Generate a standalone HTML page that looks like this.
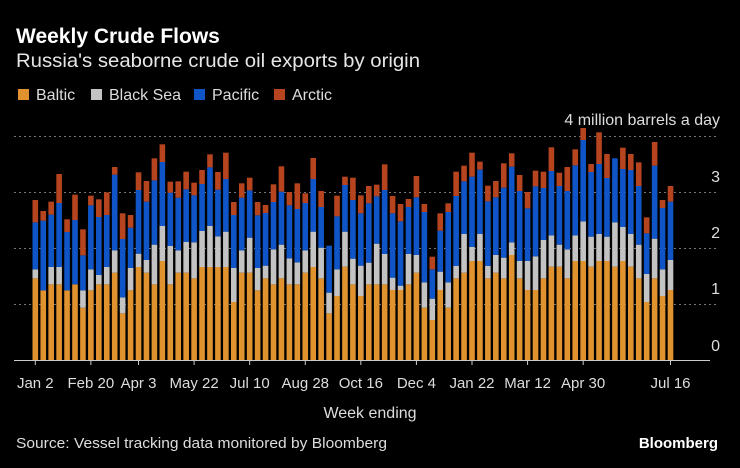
<!DOCTYPE html>
<html><head><meta charset="utf-8"><style>
html,body{margin:0;padding:0;background:#000;}
svg{display:block;font-family:"Liberation Sans",sans-serif;}
</style></head><body>
<svg id="s" width="740" height="468" viewBox="0 0 740 468" xmlns="http://www.w3.org/2000/svg">
<rect width="740" height="468" fill="#000"/>
<text x="16" y="43" fill="#fff" font-size="21" font-weight="bold">Weekly Crude Flows</text>
<text x="16" y="67" fill="#e6e6e6" font-size="19.5" textLength="404" lengthAdjust="spacingAndGlyphs">Russia's seaborne crude oil exports by origin</text>
<rect x="18" y="89" width="11" height="11" fill="#e0922f"/><text x="36" y="100" fill="#ddd" font-size="16">Baltic</text>
<rect x="91" y="89" width="11" height="11" fill="#c3c3c3"/><text x="109" y="100" fill="#ddd" font-size="16">Black Sea</text>
<rect x="194" y="89" width="11" height="11" fill="#0f55c8"/><text x="212" y="100" fill="#ddd" font-size="16">Pacific</text>
<rect x="274" y="89" width="11" height="11" fill="#b5441f"/><text x="292" y="100" fill="#ddd" font-size="16">Arctic</text>
<g stroke="#777" stroke-width="1" stroke-dasharray="2,3">
<line x1="14" y1="304.5" x2="718" y2="304.5"/><line x1="14" y1="248.5" x2="718" y2="248.5"/>
<line x1="14" y1="192.5" x2="718" y2="192.5"/><line x1="14" y1="136.5" x2="718" y2="136.5"/>
</g>
<g fill="#ddd" font-size="16" text-anchor="end">
<text x="720" y="125">4 million barrels a day</text>
<text x="720" y="182">3</text><text x="720" y="238">2</text><text x="720" y="294">1</text><text x="720" y="351">0</text>
</g>
<g id="bars"></g>
<line x1="14" y1="360.5" x2="710" y2="360.5" stroke="#ccc" stroke-width="1"/>
<g id="ticks" fill="#ddd" font-size="15" text-anchor="middle"></g>
<text x="370" y="418" fill="#ddd" font-size="16" text-anchor="middle">Week ending</text>
<text x="16" y="448" fill="#ddd" font-size="15" textLength="371" lengthAdjust="spacingAndGlyphs">Source: Vessel tracking data monitored by Bloomberg</text>
<text x="718" y="448" fill="#fff" font-size="15" font-weight="bold" text-anchor="end">Bloomberg</text>
</svg>
<script>
var z1=[[415,388,247,180],[451,451,242,213],[433,381,224,185],[433,381,189,102],[451,451,276,238],[433,433,240,164],[503,451,346,268],[451,388,196,167],[433,405,231,178],[433,381,225,157],[398,331,104,81],[520,472,297,220],[451,384,263,225],[381,341,150,97],[398,360,185,123],[433,314,121,55],[363,258,66,13],[433,318,158,125],[398,331,173,124],[398,306,148,95],[415,307,166,128],[381,273,132,90],[381,258,82,43],[381,289,149,96],[381,275,117,38],[486,384,225,186],[398,331,173,130],[398,293,151,113],[451,384,226,186],[415,377,219,195],[433,328,186,133],[415,314,155,79],[433,355,196,156],[433,367,207,130],[398,331,189,160],[381,275,117,54],[415,323,201,153],[520,458,317,317],[468,388,229,167]];
var z2=[[440,335,195,170],[493,416,240,173],[528,437,280,226],[493,428,250,198],[493,371,229,194],[493,402,210,133],[510,473,280,228],[510,497,304,252],[493,402,261,237],[458,405,232,168],[563,487,276,252],[600,536,448,410],[510,455,332,280],[563,487,276,250],[475,438,228,155],[458,342,184,137],[423,381,170,98],[423,342,149,125],[475,438,244,197],[458,405,232,183],[475,413,203,130],[405,367,140,100],[475,423,213,165],[510,423,265,216],[510,409,199,152],[475,360,204,155],[440,346,153,82],[440,374,198,158],[475,388,213,141],[423,346,136,88],[423,304,60,24],[440,350,156,132],[423,342,132,37],[423,350,174,102],[440,307,115,115],[423,321,147,83],[440,342,150,102],[475,374,198,127],[546,462,340,292],[475,356,137,66],[528,448,264,240],[510,420,245,198]];
var ys=[];z1.forEach(function(b){ys.push(b.map(function(v){return 140+v/3;}));});
z2.forEach(function(b){ys.push(b.map(function(v){return 120+v/3;}));});
var cols=["#e0922f","#c3c3c3","#0f55c8","#b5441f"],h="";
ys.forEach(function(b,i){var cx=35.3+i*7.94,x=(cx-2.8).toFixed(2),prev=360;
for(var k=0;k<4;k++){var t=b[k];if(prev-t>0.2){h+='<rect x="'+x+'" y="'+t.toFixed(2)+'" width="5.6" height="'+(prev-t).toFixed(2)+'" fill="'+cols[k]+'"/>';}prev=Math.min(prev,t);}});
document.getElementById("bars").innerHTML=h;
var L=[["Jan 2",0],["Feb 20",7],["Apr 3",13],["May 22",20],["Jul 10",27],["Aug 28",34],["Oct 16",41],["Dec 4",48],["Jan 22",55],["Mar 12",62],["Apr 30",69],["Jul 16",80]],t="";
L.forEach(function(l){var cx=(35.3+l[1]*7.94).toFixed(2);t+='<line x1="'+cx+'" y1="360" x2="'+cx+'" y2="365" stroke="#ccc"/><text x="'+cx+'" y="388">'+l[0]+'</text>';});
document.getElementById("ticks").innerHTML=t;
</script>
</body></html>
